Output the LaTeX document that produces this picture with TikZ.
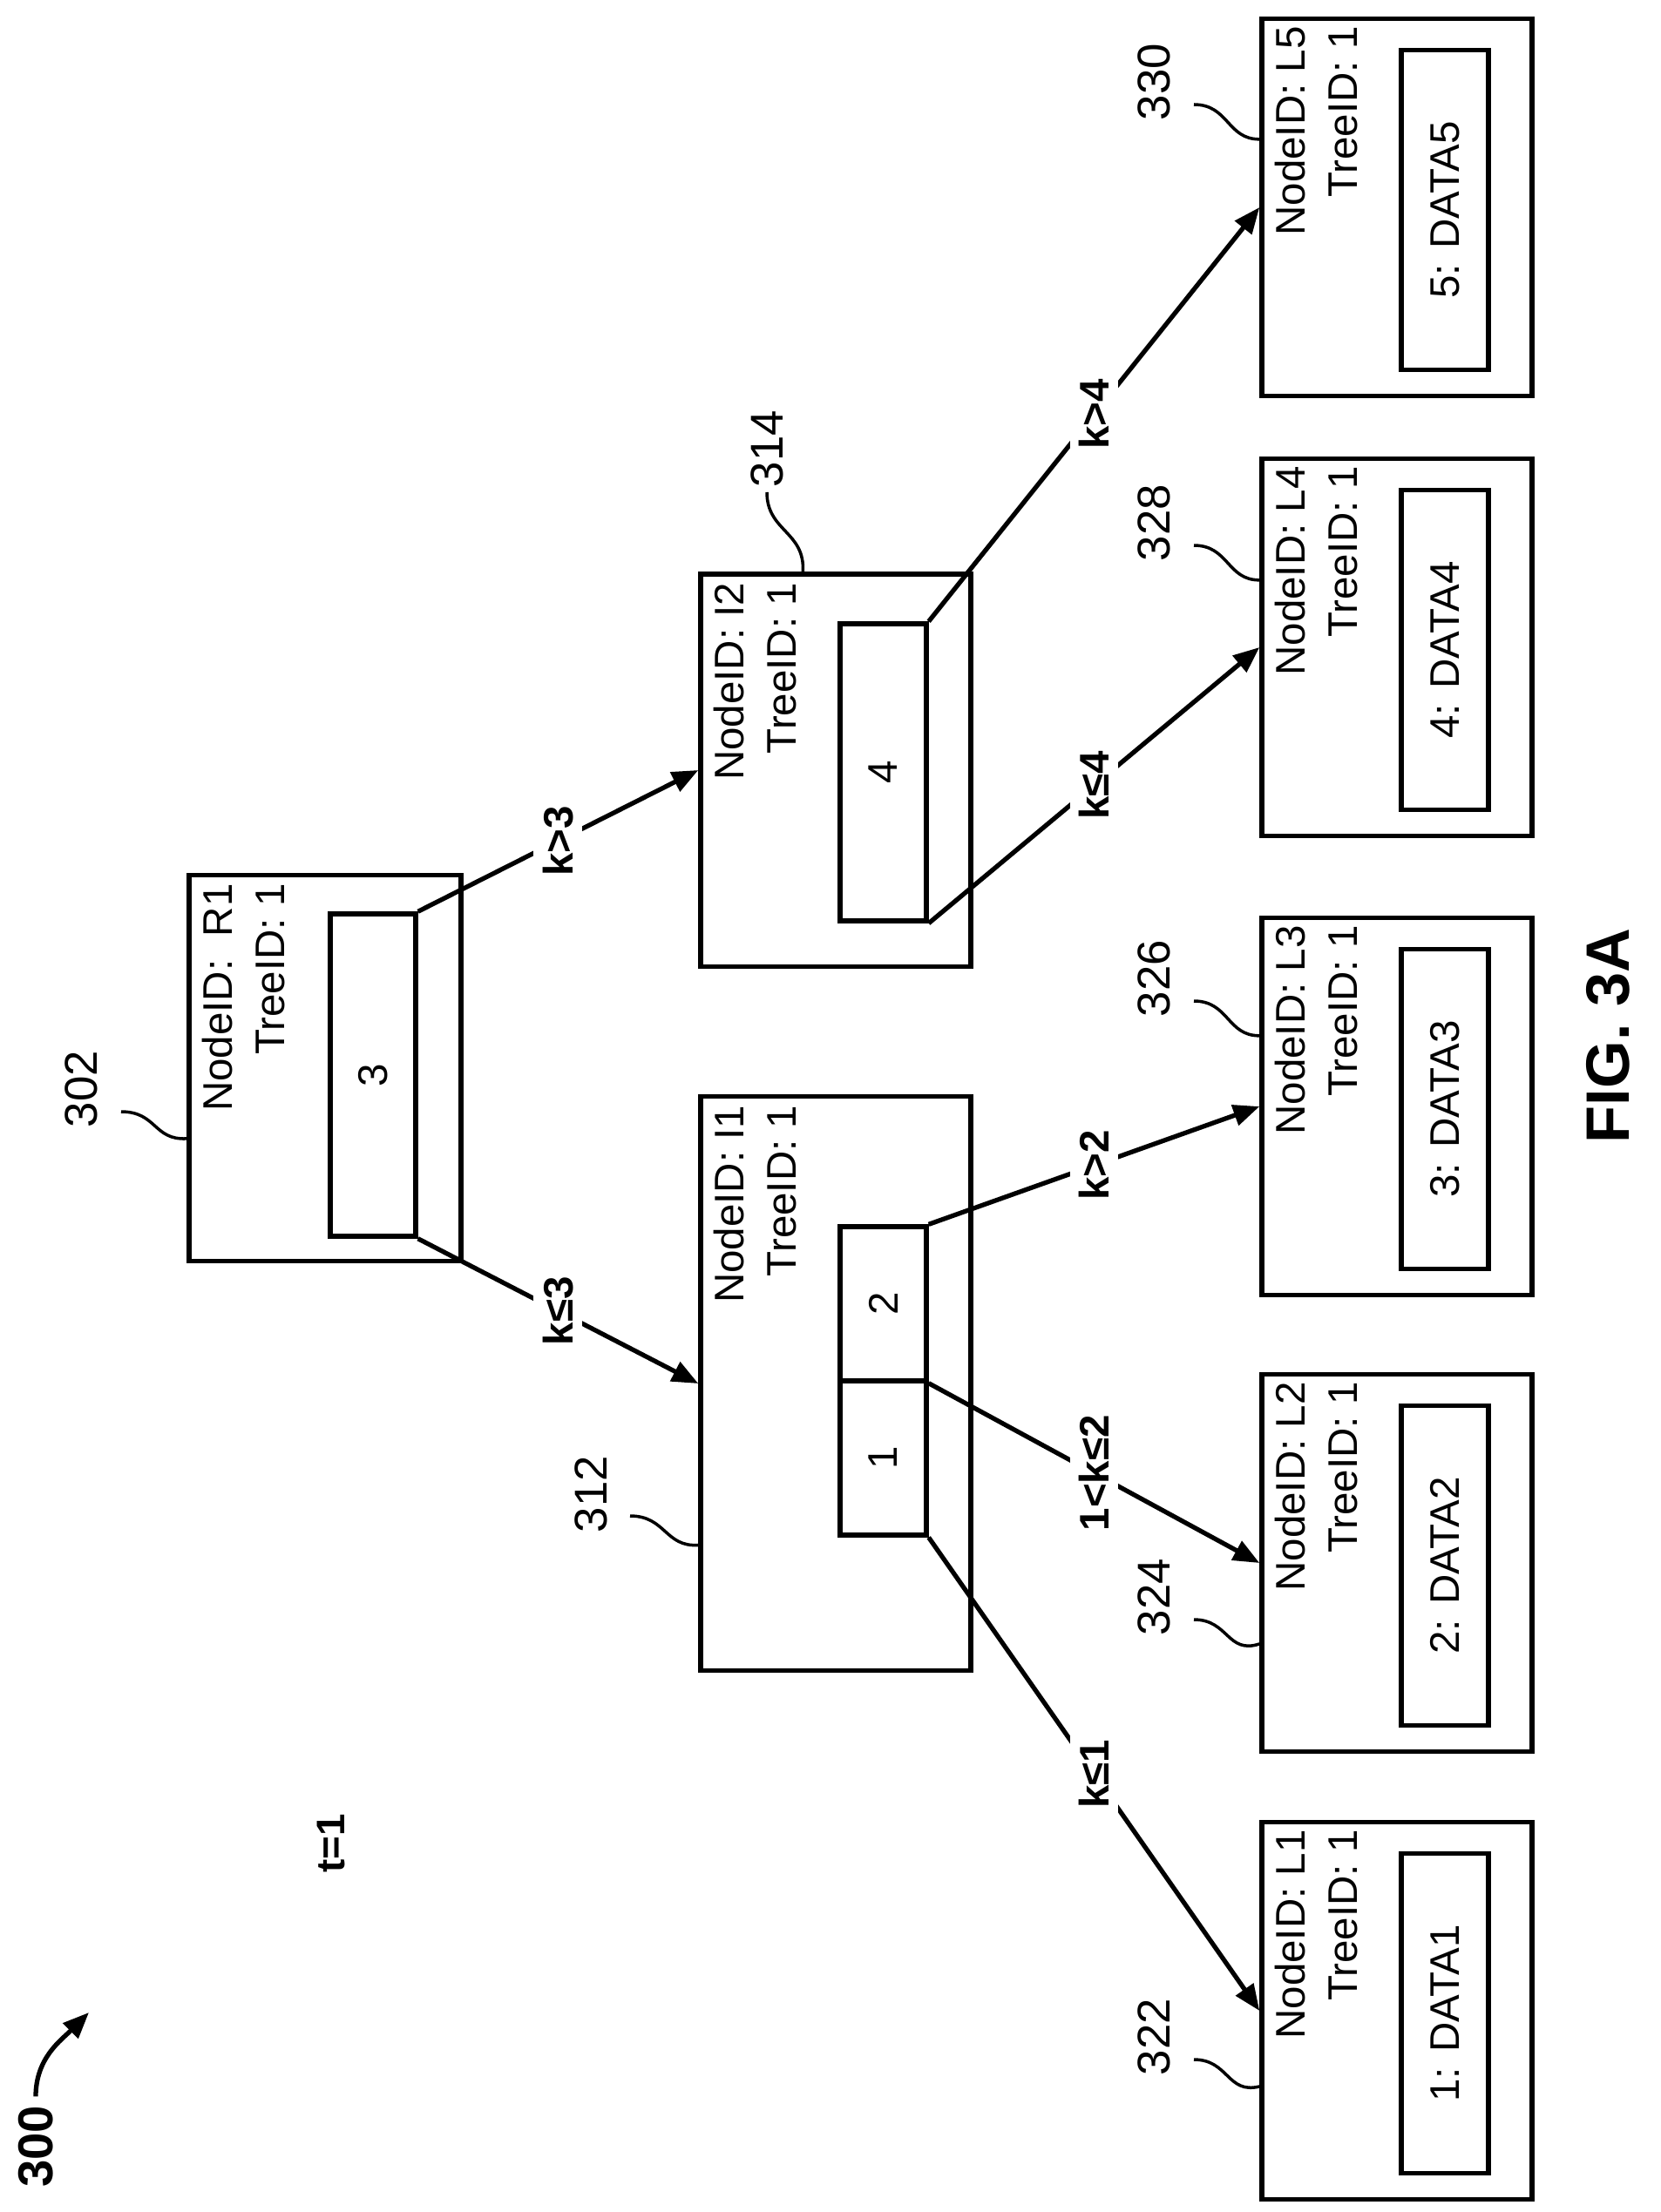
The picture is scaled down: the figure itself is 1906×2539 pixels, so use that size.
\documentclass[tikz,border=0pt]{standalone}
\usepackage{fontspec}
\setmainfont{Liberation Sans}
\usetikzlibrary{arrows.meta}

\tikzset{
  box/.style={draw, line width=1.5pt, inner sep=0pt},
  ids/.style={rotate=90, anchor=north east, align=right, inner sep=0pt,
    font=\fontsize{13.5pt}{17pt}\selectfont},
  val/.style={box, font=\fontsize{13.5pt}{16pt}\selectfont},
  edge/.style={line width=1.5pt, -{Triangle[length=0.3cm,width=0.24cm]}},
  cond/.style={rotate=90, fill=white, inner sep=3pt,
    font=\bfseries\fontsize{13.5pt}{16pt}\selectfont},
  refnum/.style={rotate=90, inner sep=0pt, font=\fontsize{15pt}{18pt}\selectfont},
  lead/.style={line width=1pt}
}

\begin{document}
\begin{tikzpicture}[x=0.01cm, y=-0.01cm]
  \useasboundingbox (0,0) rectangle (1906,2539);

  % root node
  \node[box, minimum width=3.12cm, minimum height=4.43cm] (R1) at (373,1226) {};
  \node[ids] at ([shift={(0.17cm,-0.12cm)}]R1.north west) {NodeID:~~R1\\TreeID: 1};
  \node[val, minimum width=0.98cm, minimum height=3.7cm] (k3) at (428,1234) {\rotatebox{90}{3}};

  % index nodes
  \node[box, minimum width=3.1cm, minimum height=4.5cm] (I2) at (959,884) {};
  \node[ids] at ([shift={(0.17cm,-0.12cm)}]I2.north west) {NodeID: I2\\TreeID: 1};
  \node[val, minimum width=0.99cm, minimum height=3.41cm] (k4) at (1013.5,886.5) {\rotatebox{90}{4}};

  \node[box, minimum width=3.1cm, minimum height=6.58cm] (I1) at (959,1588) {};
  \node[ids] at ([shift={(0.17cm,-0.12cm)}]I1.north west) {NodeID: I1\\TreeID: 1};
  \node[val, minimum width=0.99cm, minimum height=1.77cm] (c2) at (1013.5,1496.5) {\rotatebox{90}{2}};
  \node[val, minimum width=0.99cm, minimum height=1.77cm] (c1) at (1013.5,1673.5) {\rotatebox{90}{1}};

  % leaf nodes
  \foreach \n/\y in {5/238, 4/743, 3/1270, 2/1794, 1/2308} {
    \node[box, minimum width=3.1cm, minimum height=4.33cm] (L\n) at (1603,\y) {};
    \node[ids] at ([shift={(0.17cm,-0.11cm)}]L\n.north west) {NodeID: L\n\\TreeID: 1};
    \node[val, minimum width=1cm, minimum height=3.67cm] (d\n) at (1658,\y+3) {\rotatebox{90}{\n: DATA\n}};
  }

  % edges
  \draw[edge] (k3.north east) -- (I2.west) node[cond, pos=0.5] {k>3};
  \draw[edge] (k3.south east) -- (I1.west) node[cond, pos=0.5] {k≤3};
  \draw[edge] (k4.north east) -- (L5.west) node[cond, pos=0.5] {k>4};
  \draw[edge] (k4.south east) -- (L4.west) node[cond, pos=0.5] {k≤4};
  \draw[edge] (c2.north east) -- (L3.west) node[cond, pos=0.5] {k>2};
  \draw[edge] (c2.south east) -- (L2.west) node[cond, pos=0.5] {1<k≤2};
  \draw[edge] (c1.south east) -- (L1.west) node[cond, pos=0.5] {k≤1};

  % reference numerals
  \node[refnum] (n302) at (93,1250) {302};
  \draw[lead] (139,1276) .. controls (180,1276) and (176,1309) .. ([yshift=-3.05cm]R1.north west);
  \node[refnum] (n312) at (678,1715) {312};
  \draw[lead] (723,1740) .. controls (764,1740) and (763,1776) .. ([yshift=-5.17cm]I1.north west);
  \node[refnum] (n314) at (880,515) {314};
  \draw[lead] (880,565) .. controls (880,610) and (924,610) .. ([xshift=1.2cm]I2.north west);
  \foreach \n/\ly/\d in {330/94/1.41, 328/600/1.42, 326/1123/1.38, 324/1833/3.12, 322/2338/3.06} {
    \node[refnum] at (1324,\ly) {\n};
    \pgfmathsetmacro\sy{\ly+26}
    \pgfmathtruncatemacro\leaf{(\n-320)/2}
    \draw[lead] (1370,\sy) .. controls (1410,\sy) and (1408,\ly+26+40) .. ([yshift=-\d cm]L\leaf.north west);
  }

  % figure labels
  \node[rotate=90, font=\bfseries\fontsize{13pt}{16pt}\selectfont] (time) at (380,2116) {t=1};
  \node[rotate=90, inner sep=0pt, font=\bfseries\fontsize{16pt}{19pt}\selectfont] (n300) at (41,2464) {300};
  \coordinate (p300) at (102,2310);
  \draw[line width=1.5pt, -{Triangle[length=0.3cm,width=0.24cm]}] ([yshift=0.1cm]n300.east) to[out=90, in=225] (p300);
  \node[rotate=90, font=\bfseries\fontsize{20pt}{24pt}\selectfont] (fig) at (1845,1189) {FIG. 3A};
\end{tikzpicture}
\end{document}
